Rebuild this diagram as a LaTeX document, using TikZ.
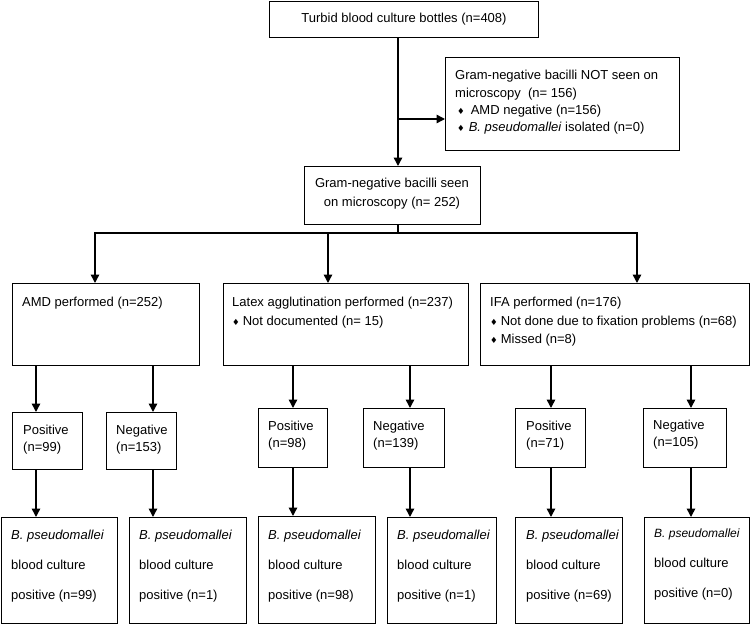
\documentclass[tikz,border=0pt]{standalone}
\usepackage{fontspec}
\setmainfont{Liberation Sans}
\newfontfamily\symfont{DejaVu Sans}
\usetikzlibrary{arrows.meta}
\newcommand\bul{{\symfont\fontsize{8.5}{9}\selectfont ♦}}
\newcommand\bpm{\textit{B. pseudomallei}}
\newcommand\mkbox[5]{\node[box, minimum width={(#4-#2)*1pt}, minimum height={(#5-#3)*1pt}] (#1) at (#2,#3) {};}
\begin{document}
\begin{tikzpicture}[x=1pt,y=-1pt,
  font=\fontsize{13}{15}\selectfont,
  box/.style={draw, line width=1.3pt, inner sep=0pt, anchor=north west},
  txt/.style={anchor=west, inner sep=0pt, text height=11pt, text depth=2pt},
  ctxt/.style={anchor=center, inner sep=0pt, text height=11pt, text depth=2pt},
  wire/.style={line width=1.5pt},
  conn/.style={line width=1.5pt, -{Triangle[length=8.5pt,width=8.5pt]}}]
\useasboundingbox (0,0) rectangle (750,624);

% boxes
\mkbox{top}{269}{1}{538}{37}
\mkbox{side}{445}{57}{679}{150}
\mkbox{seen}{304}{166}{480}{224}
\mkbox{amd}{12}{283}{199}{365}
\mkbox{lat}{223}{283}{468}{365}
\mkbox{ifa}{480}{283}{749}{365}
\mkbox{p1}{12}{412}{82}{469}
\mkbox{n1}{106}{412}{176}{469}
\mkbox{p2}{258}{408}{327}{467}
\mkbox{n2}{363}{408}{444}{467}
\mkbox{p3}{515}{408}{585}{467}
\mkbox{n3}{643}{408}{726}{467}
\mkbox{b1}{0.7}{517}{117}{623}
\mkbox{b2}{129}{517}{246}{623}
\mkbox{b3}{258}{516}{375}{623}
\mkbox{b4}{387}{517}{496}{623}
\mkbox{b5}{515}{517}{622}{623}
\mkbox{b6}{644}{517}{749}{623}

% texts
\node[ctxt] (ttop) at (404,18) {Turbid blood culture bottles (n=408)};
\node[txt] (ts1) at (455,75) {Gram-negative bacilli NOT seen on};
\node[txt] (ts2) at (455,93) {microscopy\ \ (n= 156)};
\node[txt] (ts3) at (457,110) {\bul\hspace{6pt}AMD negative (n=156)};
\node[txt] (ts4) at (457,127) {\bul\hspace{4pt}\bpm{} isolated (n=0)};
\node[ctxt] (tg1) at (392,183) {Gram-negative bacilli seen};
\node[ctxt] (tg2) at (392,202) {on microscopy (n= 252)};
\node[txt] (ta1) at (22,302) {AMD performed (n=252)};
\node[txt] (tl1) at (232,302) {Latex agglutination performed (n=237)};
\node[txt] (tl2) at (232,321) {\bul\hspace{3pt}Not documented (n= 15)};
\node[txt] (ti1) at (490,302) {IFA performed (n=176)};
\node[txt] (ti2) at (490,321) {\bul\hspace{3pt}Not done due to fixation problems (n=68)};
\node[txt] (ti3) at (490,339) {\bul\hspace{3pt}Missed (n=8)};

\node[txt] (tp1a) at (23,430) {Positive};
\node[txt] (tp1b) at (23,447) {(n=99)};
\node[txt] (tn1a) at (116,430) {Negative};
\node[txt] (tn1b) at (116,447) {(n=153)};
\node[txt] (tp2a) at (268,426) {Positive};
\node[txt] (tp2b) at (268,443) {(n=98)};
\node[txt] (tn2a) at (373,426) {Negative};
\node[txt] (tn2b) at (373,443) {(n=139)};
\node[txt] (tp3a) at (526,426) {Positive};
\node[txt] (tp3b) at (526,443) {(n=71)};
\node[txt] (tn3a) at (653,425) {Negative};
\node[txt] (tn3b) at (653,442) {(n=105)};

\node[txt] (tb1a) at (11,535) {\bpm};
\node[txt] (tb1b) at (11,565) {blood culture};
\node[txt] (tb1c) at (11,595) {positive (n=99)};
\node[txt] (tb2a) at (139,535) {\bpm};
\node[txt] (tb2b) at (139,565) {blood culture};
\node[txt] (tb2c) at (139,595) {positive (n=1)};
\node[txt] (tb3a) at (268,535) {\bpm};
\node[txt] (tb3b) at (268,565) {blood culture};
\node[txt] (tb3c) at (268,595) {positive (n=98)};
\node[txt] (tb4a) at (397,535) {\bpm};
\node[txt] (tb4b) at (397,565) {blood culture};
\node[txt] (tb4c) at (397,595) {positive (n=1)};
\node[txt] (tb5a) at (526,535) {\bpm};
\node[txt] (tb5b) at (526,565) {blood culture};
\node[txt] (tb5c) at (526,595) {positive (n=69)};
\node[txt,font=\fontsize{12}{14}\selectfont] (tb6a) at (654,533) {\bpm};
\node[txt] (tb6b) at (654,563) {blood culture};
\node[txt] (tb6c) at (654,593) {positive (n=0)};

% connectors
\coordinate (mx) at (398,0);
\coordinate (sb) at (398,119);
\coordinate (hb) at (398,233);
\coordinate (hl) at (95,0);
\coordinate (hm) at (328,233);
\coordinate (hr) at (637,0);
\draw[conn] (top.south -| mx) -- (seen.north -| mx);
\draw[conn] (sb) -- (sb -| side.west);
\draw[wire] (seen.south -| mx) -- (hb);
\draw[conn] (hb) -| (amd.north -| hl);
\draw[conn] (hb) -| (ifa.north -| hr);
\draw[conn] (hm) -- (lat.north -| hm);

\coordinate (c1) at (36,0);
\coordinate (c2) at (153,0);
\coordinate (c3) at (293,0);
\coordinate (c4) at (410,0);
\coordinate (c5) at (551,0);
\coordinate (c6) at (691,0);
\draw[conn] (amd.south -| c1) -- (p1.north -| c1);
\draw[conn] (amd.south -| c2) -- (n1.north -| c2);
\draw[conn] (lat.south -| c3) -- (p2.north -| c3);
\draw[conn] (lat.south -| c4) -- (n2.north -| c4);
\draw[conn] (ifa.south -| c5) -- (p3.north -| c5);
\draw[conn] (ifa.south -| c6) -- (n3.north -| c6);
\draw[conn] (p1.south -| c1) -- (b1.north -| c1);
\draw[conn] (n1.south -| c2) -- (b2.north -| c2);
\draw[conn] (p2.south -| c3) -- (b3.north -| c3);
\draw[conn] (n2.south -| c4) -- (b4.north -| c4);
\draw[conn] (p3.south -| c5) -- (b5.north -| c5);
\draw[conn] (n3.south -| c6) -- (b6.north -| c6);
\end{tikzpicture}
\end{document}
